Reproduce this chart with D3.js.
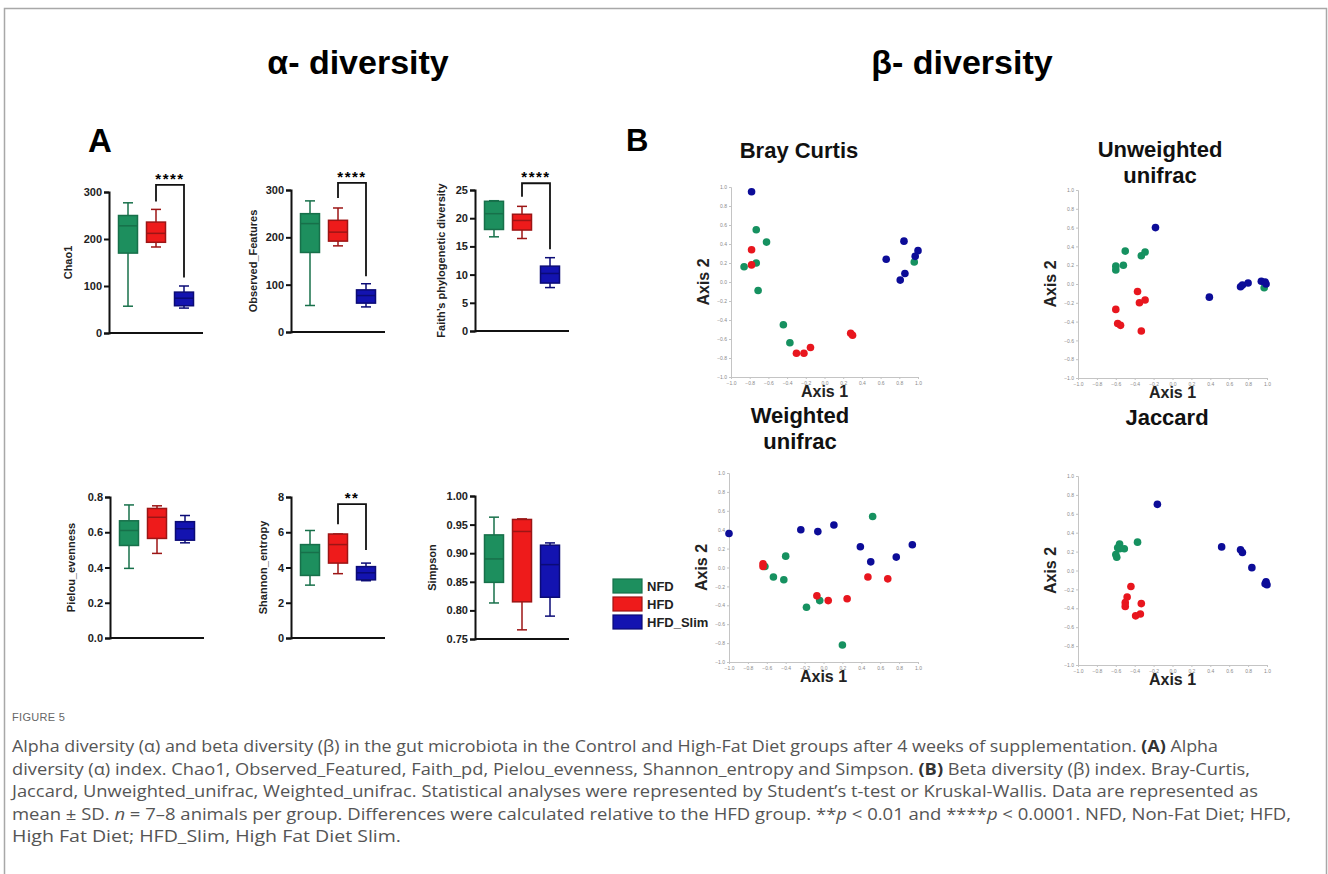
<!DOCTYPE html>
<html>
<head>
<meta charset="utf-8">
<script src="https://cdn.jsdelivr.net/npm/d3@7"></script>
<style>
  body { margin: 0; background: #fff; }
  svg { display: block; font-family: "Liberation Sans", Arial, sans-serif; }
</style>
</head>
<body>
<div id="fig"></div>
<script>
// groups + colours
const groups = ["NFD", "HFD", "HFD_Slim"];
const fills = ["#1d8f5e", "#ee1b1b", "#1313b0"];
const strokes = ["#17704a", "#9c1515", "#0b0b76"];

// alpha diversity boxes: [min, q1, median, q3, max] per group
const chao1 = [[57, 170, 228, 250, 277], [183, 193, 212, 236, 263], [53, 58, 74, 87, 100]];
const observedFeatures = [[56, 168, 229, 250, 277], [182, 192, 211, 236, 262], [53, 61, 77, 89, 102]];
const faithPd = [[16.7, 18, 20.8, 23, 23.1], [16.4, 17.9, 19.6, 20.7, 22.1], [7.7, 8.5, 10.2, 11.5, 13]];
const pielou = [[0.395, 0.525, 0.61, 0.665, 0.755], [0.48, 0.565, 0.685, 0.735, 0.75], [0.54, 0.555, 0.62, 0.66, 0.695]];
const shannon = [[3.0, 3.55, 4.85, 5.3, 6.1], [3.65, 4.25, 5.3, 5.9, 5.9], [3.25, 3.3, 3.7, 4.05, 4.25]];
const simpson = [[0.813, 0.849, 0.89, 0.932, 0.963], [0.766, 0.815, 0.938, 0.959, 0.96], [0.79, 0.823, 0.88, 0.914, 0.918]];

// y ticks per panel
const countTicks = [0, 100, 200, 300];
const faithTicks = [0, 5, 10, 15, 20, 25];
const pielouTicks = [0, 0.2, 0.4, 0.6, 0.8];
const shannonTicks = [0, 2, 4, 6, 8];
const simpsonTicks = [0.75, 0.8, 0.85, 0.9, 0.95, 1.0];

// significance brackets HFD vs HFD_Slim: [left end, top, right end] + label
const chao1Sig = [280, 315, 118, "****"];
const observedSig = [283, 315, 118, "****"];
const faithSig = [23.8, 26.2, 14.5, "****"];
const shannonSig = [6.45, 7.6, 5.0, "**"];

// beta diversity PCoA points [axis1, axis2]
const brayNFD = [[-0.73, 0.55], [-0.62, 0.42], [-0.73, 0.20], [-0.86, 0.16], [-0.71, -0.09], [-0.44, -0.45], [-0.37, -0.64], [0.96, 0.21]];
const brayHFD = [[-0.78, 0.34], [-0.78, 0.18], [-0.30, -0.75], [-0.22, -0.75], [-0.15, -0.69], [0.28, -0.54], [0.30, -0.56]];
const braySlim = [[-0.78, 0.95], [0.85, 0.43], [0.66, 0.24], [1.0, 0.33], [0.97, 0.27], [0.86, 0.09], [0.81, 0.02]];

const unweightedNFD = [[-0.50, 0.35], [-0.60, 0.19], [-0.60, 0.15], [-0.52, 0.20], [-0.33, 0.30], [-0.29, 0.34], [0.97, -0.04]];
const unweightedHFD = [[-0.37, -0.08], [-0.35, -0.20], [-0.29, -0.17], [-0.60, -0.27], [-0.58, -0.42], [-0.55, -0.44], [-0.33, -0.50]];
const unweightedSlim = [[-0.18, 0.60], [0.39, -0.14], [0.72, -0.03], [0.74, -0.01], [0.80, 0.01], [0.94, 0.03], [0.98, 0.02], [0.99, 0.0]];

const weightedNFD = [[0.52, 0.54], [-0.40, 0.12], [-0.62, 0.01], [-0.53, -0.10], [-0.42, -0.13], [-0.18, -0.42], [-0.04, -0.35], [0.20, -0.82]];
const weightedHFD = [[-0.64, 0.04], [-0.64, 0.01], [-0.07, -0.30], [0.05, -0.35], [0.25, -0.33], [0.47, -0.10], [0.68, -0.12]];
const weightedSlim = [[-1.0, 0.36], [-0.24, 0.40], [-0.06, 0.38], [0.11, 0.45], [0.39, 0.22], [0.50, 0.06], [0.77, 0.11], [0.94, 0.24]];

const jaccardNFD = [[-0.56, 0.28], [-0.58, 0.24], [-0.56, 0.23], [-0.51, 0.23], [-0.37, 0.30], [-0.60, 0.17], [-0.59, 0.14]];
const jaccardHFD = [[-0.44, -0.17], [-0.48, -0.28], [-0.50, -0.34], [-0.50, -0.38], [-0.33, -0.35], [-0.34, -0.46], [-0.39, -0.48]];
const jaccardSlim = [[-0.16, 0.70], [0.52, 0.25], [0.72, 0.22], [0.74, 0.19], [0.84, 0.03], [0.99, -0.12], [1.0, -0.15], [0.98, -0.14]];

const pcoaTicks = d3.range(-1, 1.001, 0.2);

const captionLines = [
  "Alpha diversity (α) and beta diversity (β) in the gut microbiota in the Control and High-Fat Diet groups after 4 weeks of supplementation. |(A)| Alpha",
  "diversity (α) index. Chao1, Observed_Featured, Faith_pd, Pielou_evenness, Shannon_entropy and Simpson. |(B)| Beta diversity (β) index. Bray-Curtis,",
  "Jaccard, Unweighted_unifrac, Weighted_unifrac. Statistical analyses were represented by Student’s t-test or Kruskal-Wallis. Data are represented as",
  "mean ± SD. _n_ = 7–8 animals per group. Differences were calculated relative to the HFD group. **_p_ < 0.01 and ****_p_ < 0.0001. NFD, Non-Fat Diet; HFD,",
  "High Fat Diet; HFD_Slim, High Fat Diet Slim."
];
const captionEnds = [1218, 1250, 1258, 1291, 401];

const W = 1328, H = 874;
const svg = d3.select("#fig").append("svg").attr("width", W).attr("height", H);

// frame round the figure
svg.append("path")
  .attr("d", `M4.5,${H} V8.5 H1326.5 V${H}`)
  .attr("fill", "none").attr("stroke", "#a8a8a8").attr("stroke-width", 1.5);

// headings
svg.append("text").attr("x", 358).attr("y", 74).attr("text-anchor", "middle")
  .attr("font-size", 34).attr("font-weight", "bold").text("α- diversity");
svg.append("text").attr("x", 962).attr("y", 74).attr("text-anchor", "middle")
  .attr("font-size", 34).attr("font-weight", "bold").text("β- diversity");
svg.append("text").attr("x", 88).attr("y", 152).attr("font-size", 33).attr("font-weight", "bold").text("A");
svg.append("text").attr("x", 626).attr("y", 151).attr("font-size", 31).attr("font-weight", "bold").text("B");

function boxPanel(cfg) {
  const g = svg.append("g");
  const y = d3.scaleLinear().domain(cfg.domain).range([cfg.y0, cfg.yTop]);
  const x = d3.scalePoint().domain(groups).range([cfg.x0 + 19, cfg.x0 + 75]);
  const bw = 19, cap = 10;

  const yAxis = d3.axisLeft(y).tickValues(cfg.ticks).tickSize(5).tickPadding(2)
    .tickFormat(cfg.fmt ? d3.format(cfg.fmt) : d3.format("d"));
  const ax = g.append("g").attr("transform", `translate(${cfg.x0},0)`).call(yAxis);
  ax.select(".domain").attr("stroke", "#111").attr("stroke-width", 2);
  ax.selectAll(".tick line").attr("stroke", "#111").attr("stroke-width", 2);
  ax.selectAll(".tick text").attr("font-size", 11).attr("font-weight", "bold").attr("fill", "#222")
    .attr("font-family", "Liberation Sans, Arial, sans-serif");

  // x baseline, no ticks
  g.append("line").attr("x1", cfg.x0).attr("x2", cfg.x0 + 94)
    .attr("y1", cfg.y0).attr("y2", cfg.y0).attr("stroke", "#111").attr("stroke-width", 2);

  g.append("text")
    .attr("transform", `translate(${cfg.x0 - cfg.labelOff},${(cfg.y0 + cfg.yTop) / 2}) rotate(-90)`)
    .attr("text-anchor", "middle").attr("font-size", 11).attr("font-weight", "bold").attr("fill", "#222")
    .text(cfg.label);

  const boxes = g.selectAll(".box").data(cfg.data).join("g").attr("class", "box")
    .attr("transform", (d, i) => `translate(${x(groups[i])},0)`);

  // whiskers
  boxes.append("line").attr("y1", d => y(d[0])).attr("y2", d => y(d[1]))
    .attr("stroke", (d, i) => strokes[i]).attr("stroke-width", 1.5);
  boxes.append("line").attr("y1", d => y(d[3])).attr("y2", d => y(d[4]))
    .attr("stroke", (d, i) => strokes[i]).attr("stroke-width", 1.5);
  boxes.append("line").attr("x1", -cap / 2).attr("x2", cap / 2).attr("y1", d => y(d[0])).attr("y2", d => y(d[0]))
    .attr("stroke", (d, i) => strokes[i]).attr("stroke-width", 1.5);
  boxes.append("line").attr("x1", -cap / 2).attr("x2", cap / 2).attr("y1", d => y(d[4])).attr("y2", d => y(d[4]))
    .attr("stroke", (d, i) => strokes[i]).attr("stroke-width", 1.5);

  boxes.append("rect").attr("x", -bw / 2).attr("width", bw)
    .attr("y", d => y(d[3])).attr("height", d => y(d[1]) - y(d[3]))
    .attr("fill", (d, i) => fills[i]).attr("stroke", (d, i) => strokes[i]).attr("stroke-width", 1.5);
  boxes.append("line").attr("x1", -bw / 2).attr("x2", bw / 2)
    .attr("y1", d => y(d[2])).attr("y2", d => y(d[2]))
    .attr("stroke", (d, i) => strokes[i]).attr("stroke-width", 1.5);

  if (cfg.sig) {
    const s = cfg.sig, xa = x("HFD"), xb = x("HFD_Slim");
    g.append("path")
      .attr("d", `M${xa},${y(s[0])} V${y(s[1])} H${xb} V${y(s[2])}`)
      .attr("fill", "none").attr("stroke", "#111").attr("stroke-width", 1.8);
    g.append("text").attr("x", (xa + xb) / 2).attr("y", y(s[1]) - 1)
      .attr("text-anchor", "middle").attr("font-size", 15).attr("font-weight", "bold")
      .attr("letter-spacing", 1.5).text(s[3]);
  }
}

boxPanel({ data: chao1, domain: [0, 300], ticks: countTicks, x0: 109, y0: 333, yTop: 192, label: "Chao1", labelOff: 37, sig: chao1Sig });
boxPanel({ data: observedFeatures, domain: [0, 300], ticks: countTicks, x0: 291, y0: 332, yTop: 190, label: "Observed_Features", labelOff: 34, sig: observedSig });
boxPanel({ data: faithPd, domain: [0, 25], ticks: faithTicks, x0: 475, y0: 331, yTop: 190, label: "Faith’s phylogenetic diversity", labelOff: 30, sig: faithSig });
boxPanel({ data: pielou, domain: [0, 0.8], ticks: pielouTicks, fmt: ".1f", x0: 110, y0: 638, yTop: 497, label: "Pielou_evenness", labelOff: 35 });
boxPanel({ data: shannon, domain: [0, 8], ticks: shannonTicks, x0: 291, y0: 638, yTop: 497, label: "Shannon_entropy", labelOff: 24, sig: shannonSig });
boxPanel({ data: simpson, domain: [0.75, 1.0], ticks: simpsonTicks, fmt: ".2f", x0: 475, y0: 639, yTop: 496, label: "Simpson", labelOff: 39 });

// legend
const leg = svg.append("g").attr("transform", "translate(613,579)");
groups.forEach((grp, i) => {
  leg.append("rect").attr("x", 0).attr("y", i * 18).attr("width", 29).attr("height", 14)
    .attr("fill", fills[i]).attr("stroke", strokes[i]).attr("stroke-width", 1.2);
  leg.append("text").attr("x", 34).attr("y", i * 18 + 12).attr("font-size", 13)
    .attr("font-weight", "bold").attr("fill", "#222").text(grp);
});

function pcoaPanel(cfg) {
  const g = svg.append("g");
  const x = d3.scaleLinear().domain([-1, 1]).range(cfg.xr);
  const y = d3.scaleLinear().domain([-1, 1]).range(cfg.yr);
  const fmt = d3.format(".1f");

  const xa = g.append("g").attr("transform", `translate(0,${cfg.yr[0]})`)
    .call(d3.axisBottom(x).tickValues(pcoaTicks).tickSize(2).tickPadding(2).tickFormat(fmt));
  const ya = g.append("g").attr("transform", `translate(${cfg.xr[0]},0)`)
    .call(d3.axisLeft(y).tickValues(pcoaTicks).tickSize(2).tickPadding(2).tickFormat(fmt));
  [xa, ya].forEach(a => {
    a.select(".domain").attr("stroke", "#c4c4c4");
    a.selectAll(".tick line").attr("stroke", "#c4c4c4");
    a.selectAll(".tick text").attr("font-size", 5).attr("fill", "#8a8a8a")
      .attr("font-family", "Liberation Sans, Arial, sans-serif");
  });

  const sets = [cfg.nfd, cfg.hfd, cfg.slim];
  const colors = ["#169160", "#e8161e", "#0c0c98"];
  sets.forEach((pts, i) => {
    g.selectAll(null).data(pts).join("circle")
      .attr("cx", d => x(d[0])).attr("cy", d => y(d[1])).attr("r", 3.8)
      .attr("fill", colors[i]);
  });

  g.append("text").attr("x", (cfg.xr[0] + cfg.xr[1]) / 2).attr("y", cfg.yr[0] + 20)
    .attr("text-anchor", "middle").attr("font-size", 16).attr("font-weight", "bold").attr("fill", "#222")
    .text("Axis 1");
  g.append("text")
    .attr("transform", `translate(${cfg.xr[0] - 22},${(cfg.yr[0] + cfg.yr[1]) / 2}) rotate(-90)`)
    .attr("text-anchor", "middle").attr("font-size", 16).attr("font-weight", "bold").attr("fill", "#222")
    .text("Axis 2");

  cfg.title.forEach((t, k) => {
    g.append("text").attr("x", cfg.tx).attr("y", cfg.ty + k * 26).attr("text-anchor", "middle")
      .attr("font-size", 22).attr("font-weight", "bold").attr("fill", "#111").text(t);
  });
}

pcoaPanel({ nfd: brayNFD, hfd: brayHFD, slim: braySlim, xr: [731, 918], yr: [377, 187], title: ["Bray Curtis"], tx: 799, ty: 158 });
pcoaPanel({ nfd: unweightedNFD, hfd: unweightedHFD, slim: unweightedSlim, xr: [1078, 1267], yr: [378, 190], title: ["Unweighted", "unifrac"], tx: 1160, ty: 157 });
pcoaPanel({ nfd: weightedNFD, hfd: weightedHFD, slim: weightedSlim, xr: [729, 918], yr: [662, 473], title: ["Weighted", "unifrac"], tx: 800, ty: 423 });
pcoaPanel({ nfd: jaccardNFD, hfd: jaccardHFD, slim: jaccardSlim, xr: [1078, 1267], yr: [665, 476], title: ["Jaccard"], tx: 1167, ty: 425 });

// caption
svg.append("text").attr("x", 12).attr("y", 721).attr("font-size", 11).attr("fill", "#666")
  .attr("letter-spacing", 0.3).text("FIGURE 5");

captionLines.forEach((line, i) => {
  const t = svg.append("text").attr("x", 12).attr("y", 752 + i * 22.5)
    .attr("font-size", 16).attr("fill", "#555")
    .attr("font-family", "'Liberation Sans Narrow', 'Open Sans', sans-serif")
    .attr("textLength", captionEnds[i] - 12).attr("lengthAdjust", "spacingAndGlyphs");
  // |..| marks bold, _.._ marks italic
  line.split(/(\|[^|]+\||_[a-z]_)/).forEach(part => {
    if (!part) return;
    if (part.startsWith("|")) t.append("tspan").attr("font-weight", "bold").attr("fill", "#333").text(part.slice(1, -1));
    else if (/^_[a-z]_$/.test(part)) t.append("tspan").attr("font-style", "italic").text(part.slice(1, -1));
    else t.append("tspan").text(part);
  });
});
</script>
</body>
</html>
